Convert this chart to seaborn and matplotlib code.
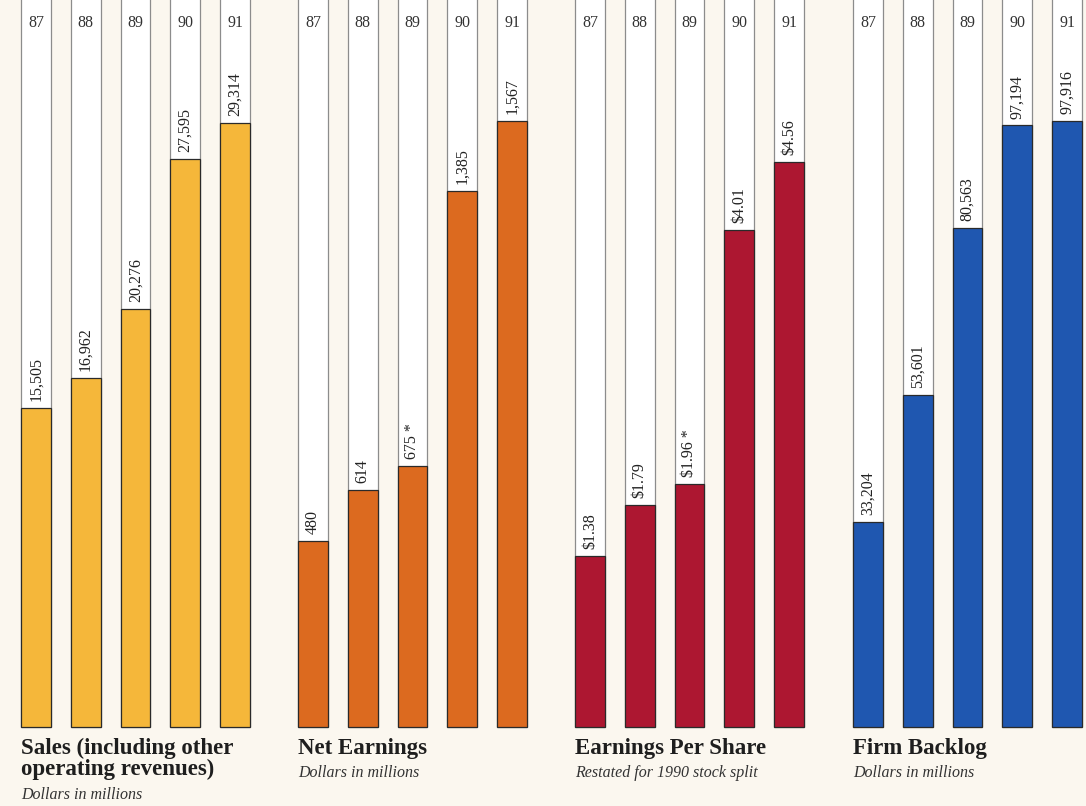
import matplotlib
matplotlib.use("Agg")
import matplotlib.pyplot as plt
import seaborn as sns
import pandas as pd
from matplotlib.transforms import blended_transform_factory

# ---- data -------------------------------------------------------------
years = ["87", "88", "89", "90", "91"]
sales = [15505, 16962, 20276, 27595, 29314]
net_earnings = [480, 614, 675, 1385, 1567]
earnings_per_share = [1.38, 1.79, 1.96, 4.01, 4.56]
firm_backlog = [33204, 53601, 80563, 97194, 97916]

sales_notes = ["", "", "", "", ""]
net_notes = ["", "", " *", "", ""]
eps_notes = ["", "", " *", "", ""]
backlog_notes = ["", "", "", "", ""]

titles = ["Sales (including other\noperating revenues)", "Net Earnings",
          "Earnings Per Share", "Firm Backlog"]
subtitles = ["Dollars in millions", "Dollars in millions",
             "Restated for 1990 stock split", "Dollars in millions"]

# ---- styling ------------------------------------------------------------
sns.set_theme(style="white")
plt.rcParams["font.family"] = ["Liberation Serif", "DejaVu Serif"]

PAPER = "#fbf7ef"
COLORS = ["#f5b73a", "#dc6a1f", "#ad1731", "#1f57b0"]
DARK = "#2a2a2a"

W, H = 1086, 806
fig = plt.figure(figsize=(W / 100, H / 100), dpi=100, facecolor=PAPER)

panel_left_px = [21, 298, 575, 853]
panel_width_px = 229
base_px = 727                      # pixel row of the bar baseline
ceilings = [35290, 1880, 5.87, 117470]   # value at the top edge of each panel

series = [
    (sales, sales_notes, "{:,.0f}"),
    (net_earnings, net_notes, "{:,.0f}"),
    (earnings_per_share, eps_notes, "${:.2f}"),
    (firm_backlog, backlog_notes, "{:,.0f}"),
]

for i, ((vals, notes, fmt), color) in enumerate(zip(series, COLORS)):
    ax = fig.add_axes([panel_left_px[i] / W, (H - base_px) / H,
                       panel_width_px / W, base_px / H])
    ax.set_facecolor("none")
    df = pd.DataFrame({"year": years, "value": vals,
                       "column": [ceilings[i] * 1.1] * len(years)})

    # white column behind each bar
    sns.barplot(data=df, x="year", y="column", order=years, color="white",
                width=0.6, errorbar=None, edgecolor="#8c8c8c", linewidth=0.9,
                saturation=1, ax=ax)
    # coloured value bar
    sns.barplot(data=df, x="year", y="value", order=years, color=color,
                width=0.6, errorbar=None, edgecolor=DARK, linewidth=0.9,
                saturation=1, ax=ax)
    for p in ax.patches:
        p.set_clip_on(False)

    ax.set_xlim(-0.3, 4.3)
    ax.set_ylim(0, ceilings[i])
    ax.axis("off")

    trans = blended_transform_factory(ax.transData, ax.transAxes)
    for k, (yr, v, note) in enumerate(zip(years, vals, notes)):
        ax.text(k, 1 - 23 / base_px, yr, transform=trans, ha="center",
                va="center", fontsize=11.5, color="#333333")
        ax.annotate(fmt.format(v) + note, xy=(k, v), xytext=(0, 5),
                    textcoords="offset points", rotation=90, ha="center",
                    va="bottom", fontsize=11.5, color="#222222")

    x_fig = panel_left_px[i] / W
    fig.text(x_fig, (H - 738) / H, titles[i], ha="left", va="top",
             fontsize=16.5, fontweight="bold", color="#1e1e1e", linespacing=1.0)
    n_lines = titles[i].count("\n") + 1
    sub_y = 765 + (n_lines - 1) * 22
    fig.text(x_fig, (H - sub_y) / H, subtitles[i], ha="left", va="top",
             fontsize=11.5, style="italic", color="#333333")

fig.savefig("out.png", dpi=100, facecolor=PAPER)
